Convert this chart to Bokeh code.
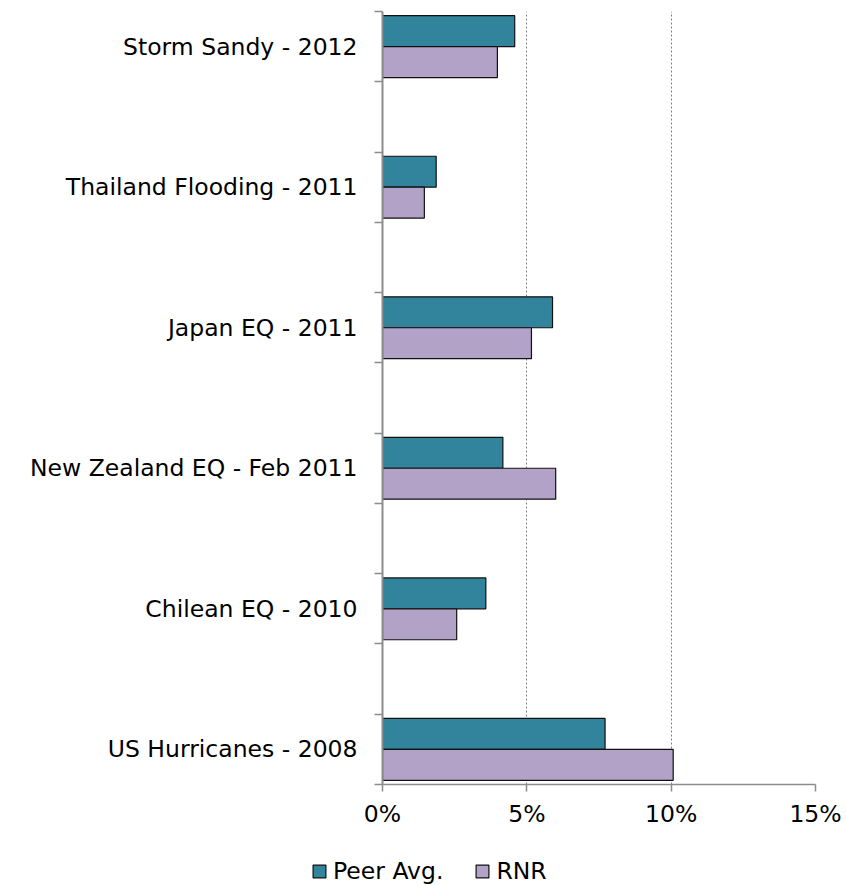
from bokeh.plotting import figure
from bokeh.layouts import column
from bokeh.models import (Range1d, FixedTicker, NumeralTickFormatter, Legend,
                          LegendItem, ColumnDataSource)
from bokeh.embed import file_html
from bokeh.resources import INLINE

# Loss events (top to bottom) and loss as a share of equity
events = ["Storm Sandy - 2012", "Thailand Flooding - 2011", "Japan EQ - 2011",
          "New Zealand EQ - Feb 2011", "Chilean EQ - 2010", "US Hurricanes - 2008"]
peer_avg = [0.0458, 0.0186, 0.0589, 0.0417, 0.0358, 0.0771]
rnr = [0.0398, 0.0145, 0.0516, 0.0600, 0.0257, 0.1007]
x_ticks = [0.0, 0.05, 0.10, 0.15]
series_names = ["Peer Avg.", "RNR"]
series_colors = ["#31849B", "#B3A2C7"]

FONT = "DejaVu Sans"
FONT_SIZE = "23.5px"
AXIS_GRAY = "#8c8c8c"
BAR_EDGE = "#111111"

# Each event gets one slot, with an empty slot between neighbours
n_slots = 2 * len(events) - 1
centers = [n_slots - (2 * i + 0.5) for i in range(len(events))]
bar_h = 0.44

src = ColumnDataSource(dict(
    event=events,
    peer=peer_avg,
    rnr=rnr,
    y_peer=[c + bar_h / 2 for c in centers],
    y_rnr=[c - bar_h / 2 for c in centers],
))

p = figure(width=846, height=830, output_backend="svg", toolbar_location=None,
           x_range=Range1d(0, 0.15), y_range=Range1d(0, n_slots),
           min_border_left=382, min_border_right=31,
           min_border_top=11, min_border_bottom=46)
p.outline_line_color = None
p.background_fill_color = "white"
p.border_fill_color = "white"

p.hbar(y="y_peer", left=0, right="peer", height=bar_h, source=src,
       fill_color=series_colors[0], line_color=BAR_EDGE, line_width=1.2)
p.hbar(y="y_rnr", left=0, right="rnr", height=bar_h, source=src,
       fill_color=series_colors[1], line_color=BAR_EDGE, line_width=1.2)

# x axis: percentages with dotted vertical gridlines
p.xaxis.ticker = FixedTicker(ticks=x_ticks)
p.xaxis.formatter = NumeralTickFormatter(format="0%")
p.xaxis.axis_line_color = AXIS_GRAY
p.xaxis.axis_line_width = 1.5
p.xaxis.major_tick_line_color = AXIS_GRAY
p.xaxis.major_tick_line_width = 1.5
p.xaxis.major_tick_out = 7
p.xaxis.major_tick_in = 0
p.xaxis.minor_tick_line_color = None
p.xaxis.major_label_standoff = 8
p.xaxis.major_label_text_font = FONT
p.xaxis.major_label_text_font_size = FONT_SIZE
p.xaxis.major_label_text_color = "black"

p.xgrid.ticker = FixedTicker(ticks=x_ticks[1:])
p.xgrid.grid_line_color = "#808080"
p.xgrid.grid_line_dash = "2 2"
p.xgrid.grid_line_width = 1
p.ygrid.grid_line_color = None

# y axis: labels at event centres, tick marks at slot boundaries
p.yaxis.ticker = FixedTicker(ticks=centers, minor_ticks=list(range(n_slots + 1)))
p.yaxis.major_label_overrides = {c: e for c, e in zip(centers, events)}
p.yaxis.axis_line_color = AXIS_GRAY
p.yaxis.axis_line_width = 2
p.yaxis.major_tick_line_color = None
p.yaxis.major_tick_out = 0
p.yaxis.major_tick_in = 0
p.yaxis.minor_tick_line_color = AXIS_GRAY
p.yaxis.minor_tick_line_width = 1.5
p.yaxis.minor_tick_out = 8
p.yaxis.minor_tick_in = 0
p.yaxis.major_label_standoff = 17
p.yaxis.major_label_text_font = FONT
p.yaxis.major_label_text_font_size = FONT_SIZE
p.yaxis.major_label_text_color = "black"

# Legend strip underneath the chart; the swatch renderers carry NaN
# coordinates so only their legend glyphs are drawn
nan = float("nan")
leg = figure(width=846, height=55, output_backend="svg", toolbar_location=None,
             x_range=Range1d(0, 1), y_range=Range1d(0, 1),
             min_border=0, x_axis_type=None, y_axis_type=None)
leg.outline_line_color = None
leg.grid.grid_line_color = None
swatches = [leg.hbar(y=[nan], left=[nan], right=[nan], height=1, fill_color=c,
                     line_color=BAR_EDGE, line_width=1.2) for c in series_colors]

legend = Legend(
    items=[LegendItem(label=n, renderers=[r]) for n, r in zip(series_names, swatches)],
    orientation="horizontal",
    location=(311, 0),
    glyph_width=16, glyph_height=16,
    label_standoff=6, spacing=31,
    padding=0, margin=0,
    border_line_color=None, background_fill_alpha=0,
    label_text_font=FONT, label_text_font_size=FONT_SIZE,
    label_text_color="black",
)
leg.add_layout(legend, "center")

layout = column(column(p), column(leg), spacing=0)
open("out.html", "w").write(file_html(layout, INLINE))
